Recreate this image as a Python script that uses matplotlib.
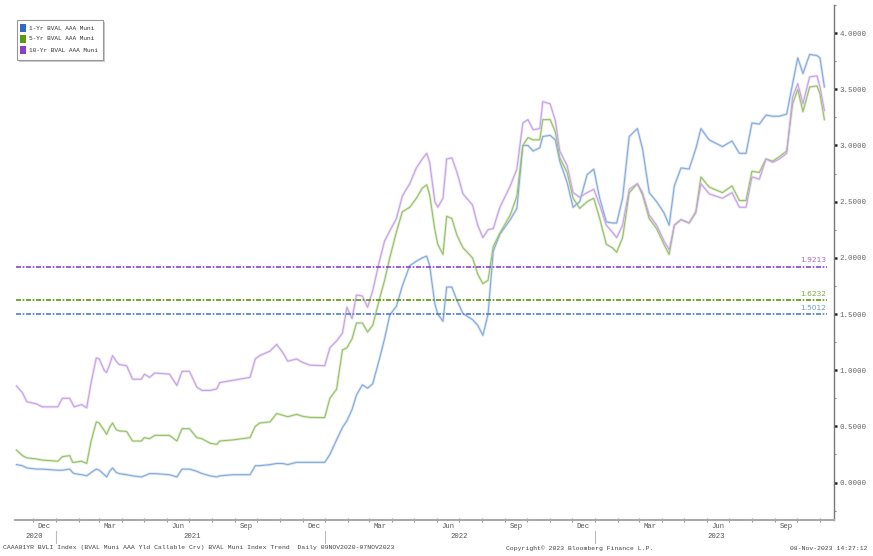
import matplotlib
matplotlib.use("Agg")
import matplotlib.pyplot as plt
import matplotlib.dates as mdates
import matplotlib.ticker as mticker
import matplotlib.transforms as mtransforms
from matplotlib.lines import Line2D
from matplotlib.patches import Rectangle
import pandas as pd

dates = ['2020-11-09','2020-11-17','2020-11-23','2020-12-06','2020-12-14','2021-01-04','2021-01-10','2021-01-20','2021-01-24','2021-01-26',
         '2021-02-05','2021-02-12','2021-02-18','2021-02-25','2021-03-01','2021-03-08','2021-03-11','2021-03-15','2021-03-19','2021-03-24',
         '2021-03-28','2021-04-07','2021-04-15','2021-04-27','2021-05-01','2021-05-08','2021-05-15','2021-06-04','2021-06-14','2021-06-21',
         '2021-07-01','2021-07-11','2021-07-18','2021-07-29','2021-08-07','2021-08-11','2021-08-29','2021-09-21','2021-09-28','2021-10-04',
         '2021-10-18','2021-10-27','2021-11-04','2021-11-11','2021-11-23','2021-12-01','2021-12-11','2021-12-31','2022-01-07','2022-01-16',
         '2022-01-24','2022-01-30','2022-02-06','2022-02-12','2022-02-20','2022-02-27','2022-03-06','2022-03-15','2022-03-22','2022-03-29',
         '2022-04-07','2022-04-15','2022-04-25','2022-05-04','2022-05-12','2022-05-18','2022-05-22','2022-05-29','2022-06-02','2022-06-09',
         '2022-06-14','2022-06-21','2022-06-28','2022-07-06','2022-07-19','2022-07-26','2022-08-02','2022-08-09','2022-08-16','2022-08-25',
         '2022-09-08','2022-09-17','2022-09-25','2022-10-02','2022-10-09','2022-10-18','2022-10-22','2022-11-01','2022-11-08','2022-11-14',
         '2022-11-24','2022-12-02','2022-12-11','2022-12-21','2022-12-30','2023-01-07','2023-01-16','2023-01-24','2023-01-30','2023-02-07',
         '2023-02-16','2023-02-27','2023-03-06','2023-03-15','2023-03-25','2023-04-04','2023-04-11','2023-04-18','2023-04-27','2023-05-08',
         '2023-05-17','2023-05-24','2023-06-04','2023-06-22','2023-07-05','2023-07-15','2023-07-24','2023-08-01','2023-08-11','2023-08-20',
         '2023-08-29','2023-09-07','2023-09-17','2023-09-25','2023-10-02','2023-10-09','2023-10-18','2023-10-28','2023-11-01','2023-11-07']

yr1 = [0.16,0.15,0.13,0.12,0.12,0.11,0.11,0.12,0.09,0.08,
       0.07,0.06,0.09,0.12,0.11,0.07,0.05,0.10,0.13,0.09,
       0.08,0.07,0.06,0.05,0.06,0.08,0.08,0.07,0.05,0.12,
       0.12,0.10,0.08,0.06,0.05,0.06,0.07,0.07,0.15,0.15,
       0.16,0.17,0.17,0.16,0.18,0.18,0.18,0.18,0.25,0.38,
       0.49,0.55,0.65,0.78,0.87,0.84,0.88,1.10,1.28,1.49,
       1.57,1.75,1.93,1.97,2.00,2.015,1.93,1.59,1.50,1.435,
       1.74,1.74,1.62,1.505,1.45,1.40,1.31,1.50,2.06,2.21,
       2.34,2.44,3.00,3.00,2.95,2.98,3.08,3.09,3.05,2.86,
       2.67,2.45,2.50,2.74,2.79,2.53,2.32,2.31,2.31,2.53,
       3.08,3.15,2.97,2.58,2.50,2.40,2.29,2.64,2.80,2.79,
       2.97,3.15,3.05,2.99,3.04,2.93,2.93,3.20,3.19,3.27,
       3.26,3.26,3.28,3.55,3.78,3.64,3.81,3.80,3.78,3.52]

yr5 = [0.29,0.24,0.22,0.21,0.20,0.19,0.23,0.24,0.18,0.18,
       0.19,0.17,0.37,0.54,0.53,0.46,0.43,0.49,0.53,0.47,
       0.46,0.455,0.37,0.37,0.40,0.39,0.42,0.42,0.37,0.48,
       0.48,0.40,0.39,0.35,0.34,0.37,0.38,0.40,0.50,0.53,
       0.54,0.615,0.60,0.586,0.607,0.59,0.58,0.578,0.75,0.83,
       1.18,1.20,1.28,1.42,1.42,1.34,1.40,1.63,1.80,2.00,
       2.23,2.41,2.45,2.53,2.62,2.65,2.56,2.25,2.12,2.03,
       2.37,2.35,2.20,2.09,2.00,1.855,1.77,1.80,2.10,2.22,
       2.38,2.55,3.00,3.07,3.05,3.05,3.23,3.23,3.12,2.89,
       2.76,2.53,2.44,2.50,2.53,2.35,2.12,2.09,2.05,2.18,
       2.58,2.66,2.56,2.35,2.26,2.12,2.03,2.29,2.34,2.31,
       2.41,2.72,2.63,2.58,2.64,2.51,2.51,2.77,2.76,2.88,
       2.86,2.90,2.95,3.37,3.50,3.30,3.52,3.53,3.46,3.23]

yr10 = [0.86,0.80,0.72,0.70,0.674,0.674,0.75,0.75,0.70,0.674,
        0.694,0.665,0.89,1.11,1.10,0.995,0.98,1.05,1.13,1.08,
        1.05,1.04,0.92,0.92,0.965,0.936,0.975,0.965,0.864,0.99,
        0.99,0.85,0.82,0.82,0.834,0.89,0.91,0.936,1.10,1.13,
        1.17,1.23,1.16,1.08,1.10,1.07,1.045,1.04,1.20,1.26,
        1.33,1.56,1.46,1.67,1.66,1.56,1.71,1.97,2.15,2.24,
        2.35,2.55,2.66,2.80,2.88,2.93,2.85,2.50,2.45,2.53,
        2.88,2.89,2.76,2.57,2.47,2.29,2.18,2.25,2.26,2.45,
        2.64,2.79,3.20,3.23,3.14,3.15,3.39,3.37,3.22,2.95,
        2.82,2.58,2.54,2.58,2.61,2.47,2.29,2.23,2.18,2.29,
        2.61,2.66,2.58,2.38,2.29,2.15,2.07,2.29,2.34,2.31,
        2.40,2.66,2.57,2.53,2.58,2.45,2.45,2.72,2.70,2.88,
        2.85,2.88,2.93,3.43,3.55,3.37,3.61,3.62,3.52,3.31]

series_names = ['1-Yr BVAL AAA Muni', '5-Yr BVAL AAA Muni', '10-Yr BVAL AAA Muni']
ref_values = [1.5012, 1.6232, 1.9213]
ref_labels = ['1.5012', '1.6232', '1.9213']
year_labels = ['2020', '2021', '2022', '2023']
year_label_dates = ['2020-12-03', '2021-07-05', '2022-07-01', '2023-06-14']
year_sep_dates = ['2021-01-01', '2022-01-01', '2023-01-01']
y_ticks = [0.0, 0.5, 1.0, 1.5, 2.0, 2.5, 3.0, 3.5, 4.0]

x = pd.to_datetime(dates)
line_cols = ['#84aadd', '#98c06a', '#c5a2e3']
halo_cols = ['#dbe6f6', '#e1eed3', '#eee3f8']
ref_cols = ['#4d80c4', '#5c9410', '#8b44c8']
legend_cols = ['#2f6cc0', '#5a9a10', '#8a3fc4']
mono = ['Liberation Mono', 'DejaVu Sans Mono']

fig = plt.figure(figsize=(8.73, 5.56), dpi=100)
W, H = 873, 556
ax = fig.add_axes([15 / W, (H - 520) / H, (834 - 15) / W, (520 - 5) / H])

for vals, lc, hc in zip([yr1, yr5, yr10], line_cols, halo_cols):
    ax.plot(x, vals, color=hc, lw=2.0, solid_capstyle='round', zorder=2)
    ax.plot(x, vals, color=lc, lw=0.8, zorder=3)

xr = [pd.Timestamp('2020-11-09'), pd.Timestamp('2023-11-10')]
for v, c, lab in zip(ref_values, ref_cols, ref_labels):
    ax.plot(xr, [v, v], color=c, lw=1.2, ls=(0, (3, 1, 1, 1)), zorder=4)
    ax.text(xr[1], v + 0.03, lab, color=c, fontsize=5.4, ha='right', va='bottom',
            family=['DejaVu Sans'], alpha=0.8)

ax.set_xlim(pd.Timestamp('2020-11-07'), pd.Timestamp('2023-11-20'))
ax.set_ylim(-0.333, 4.175)

# y axis on the right
ax.yaxis.tick_right()
ax.set_yticks(y_ticks)
ax.yaxis.set_major_formatter(mticker.FormatStrFormatter('%.4f'))
ax.set_yticks([v + 0.25 for v in [-0.5] + y_ticks], minor=True)
ax.tick_params(axis='y', which='major', direction='out', length=2.5, width=1.8,
               color='#222222', labelsize=5.4, labelcolor='#666666', pad=1.5)
ax.tick_params(axis='y', which='minor', direction='out', length=1.5, width=0.8,
               color='#888888')
for t in ax.get_yticklabels():
    t.set_family(mono)

# x axis
ax.xaxis.set_major_locator(mdates.MonthLocator())
ax.xaxis.set_major_formatter(mticker.NullFormatter())
ax.xaxis.set_minor_locator(mdates.MonthLocator(bymonth=(3, 6, 9, 12), bymonthday=16))
ax.xaxis.set_minor_formatter(mdates.DateFormatter('%b'))
ax.tick_params(axis='x', which='major', direction='inout', length=3, width=0.8, color='#999999')
ax.tick_params(axis='x', which='minor', length=0, labelsize=5.2, labelcolor='#555555', pad=2)
for t in ax.get_xticklabels(minor=True):
    t.set_family(mono)

for s in ['top', 'left']:
    ax.spines[s].set_visible(False)
ax.spines['right'].set_color('#777777')
ax.spines['bottom'].set_color('#aaaaaa')
ax.spines['right'].set_linewidth(1.0)
ax.spines['bottom'].set_linewidth(1.5)

trans = mtransforms.blended_transform_factory(ax.transData, fig.transFigure)
for lab, d in zip(year_labels, year_label_dates):
    ax.text(pd.Timestamp(d), (H - 537) / H, lab, transform=trans, ha='center', va='center',
            fontsize=5.2, color='#555555', family=mono)
for d in year_sep_dates:
    xd = mdates.date2num(pd.Timestamp(d))
    fig.add_artist(Line2D([xd, xd], [(H - 531) / H, (H - 543) / H], transform=trans,
                          color='#bbbbbb', lw=0.8))

# footer
fig.text(3 / W, (H - 548) / H, 'CAAA01YR BVLI Index (BVAL Muni AAA Yld Callable Crv) BVAL Muni Index Trend  Daily 09NOV2020-07NOV2023',
         fontsize=4.6, color='#444444', va='center', ha='left', family=mono)
fig.text(506 / W, (H - 548) / H, 'Copyright\u00a9 2023 Bloomberg Finance L.P.',
         fontsize=4.6, color='#444444', va='center', ha='left', family=mono)
fig.text(868 / W, (H - 548) / H, '08-Nov-2023 14:27:12',
         fontsize=4.6, color='#444444', va='center', ha='right', family=mono)

# legend box
fig.add_artist(Rectangle((19 / W, (H - 62) / H), 86 / W, 40 / H, transform=fig.transFigure,
                         facecolor='#cccccc', edgecolor='none', zorder=5))
fig.add_artist(Rectangle((17 / W, (H - 60) / H), 86 / W, 40 / H, transform=fig.transFigure,
                         facecolor='white', edgecolor='#999999', lw=0.8, zorder=6))
for i, (name, c) in enumerate(zip(series_names, legend_cols)):
    yy = (H - (28 + i * 11)) / H
    fig.add_artist(Rectangle((20 / W, yy - 3.5 / H), 6 / W, 7 / H, transform=fig.transFigure,
                             facecolor=c, edgecolor='none', zorder=7))
    fig.text(29 / W, yy, name, fontsize=4.4, color='#333333', va='center', ha='left',
             family=mono, zorder=7)

fig.savefig('out.png', dpi=100, facecolor='white')
